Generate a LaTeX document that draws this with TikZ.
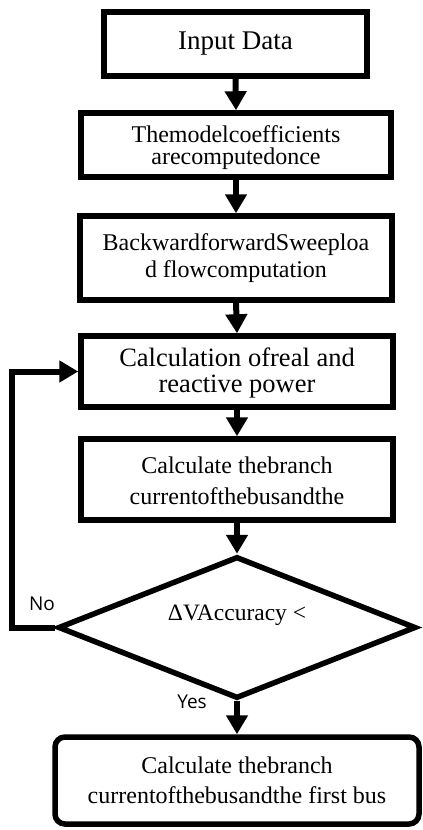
\documentclass[tikz,border=0pt]{standalone}
\usepackage{fontspec}
\setmainfont{Liberation Serif}
\newfontfamily\lblfont{Open Sans}
\usetikzlibrary{arrows.meta,shapes.geometric}
\begin{document}
\begin{tikzpicture}[x=1pt,y=-1pt,
  box/.style={draw, line width=5.5pt, inner sep=0pt, align=center, line join=miter},
  txt/.style={inner sep=0pt, align=center},
  conn/.style={line width=6pt, -{Triangle[length=19pt,width=21pt]}},
  lbl/.style={font=\lblfont\fontsize{19}{20}\selectfont, inner sep=0pt}]
\useasboundingbox (0,0) rectangle (423,830);
\node[box, minimum width=263pt, minimum height=64pt,
  label={[txt, font=\fontsize{27}{28}\selectfont]center:Input Data}] (b1) at (235.5,44) {};
\node[box, minimum width=310pt, minimum height=64pt,
  label={[txt, font=\fontsize{24}{22}\selectfont, yshift=-2.5pt]center:Themodelcoefficients\\arecomputedonce}] (b2) at (236,145) {};
\node[box, minimum width=312pt, minimum height=84pt,
  label={[txt, font=\fontsize{24}{27}\selectfont]center:BackwardforwardSweeploa\\d flowcomputation}] (b3) at (236,258) {};
\node[box, minimum width=312pt, minimum height=71pt,
  label={[txt, font=\fontsize{26.5}{26}\selectfont, yshift=-1.3pt]center:Calculation ofreal and\\reactive power}] (b4) at (237,371.5) {};
\node[box, minimum width=312pt, minimum height=81pt,
  label={[txt, font=\fontsize{24}{31}\selectfont, yshift=-0.8pt]center:Calculate thebranch\\currentofthebusandthe}] (b5) at (237,479.5) {};
\node[box, diamond, minimum width=358pt, minimum height=142pt,
  label={[txt, font=\fontsize{23.5}{26}\selectfont, yshift=12pt]center:ΔVAccuracy <}] (d) at (237,627.5) {};
\node[box, rounded corners=10pt, minimum width=364pt, minimum height=87pt,
  label={[txt, font=\fontsize{24}{30}\selectfont]center:Calculate thebranch\\currentofthebusandthe first bus}] (b6) at (237,780.5) {};
\coordinate (lp) at (12,0);
\draw[conn] (b1.south) -- (b2.north);
\draw[conn] (b2.south) -- (b3.north);
\draw[conn] (b3.south) -- (b4.north);
\draw[conn] (b4.south) -- (b5.north);
\draw[conn] (b5.south) -- (d.north);
\draw[conn] (d.south) -- (b6.north);
\draw[conn, line join=miter] (d.west) -- (d.west -| lp) |- (b4.west);
\node[lbl] (no) at (42,604) {No};
\node[lbl] (yes) at (192,702) {Yes};
\end{tikzpicture}
\end{document}
